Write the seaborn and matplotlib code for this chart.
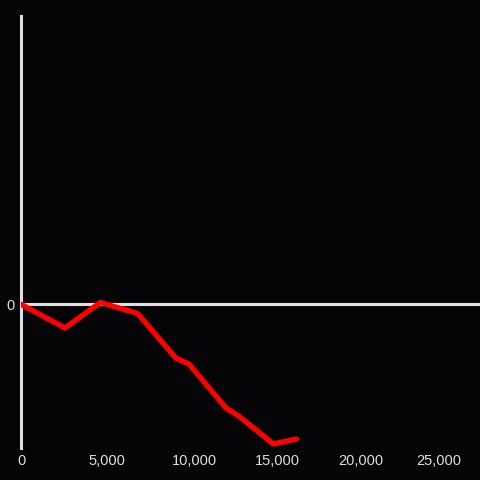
import matplotlib
matplotlib.use("Agg")
import matplotlib.pyplot as plt
import matplotlib.transforms as mtransforms
import seaborn as sns
import pandas as pd

x_vals = [0, 2650, 4750, 6970, 9240, 10030, 12230, 13030, 15050, 16430]
y_vals = [0, -24, 1.5, -9.5, -54, -60, -104, -112.5, -140, -135]
x_ticks = [0, 5000, 10000, 15000, 20000, 25000]
x_tick_labels = ["0", "5,000", "10,000", "15,000", "20,000", "25,000"]

sns.set_style("dark")
plt.rcParams['font.family'] = ['Liberation Sans', 'DejaVu Sans']

bg = "#050407"
axis_col = "#e0e0e0"
fig = plt.figure(figsize=(4.8, 4.8), dpi=100, facecolor=bg)
ax = fig.add_axes([20.5/480, 32/480, 1 - 20.5/480, 432/480])
ax.set_facecolor(bg)

df = pd.DataFrame({"x": x_vals, "y": y_vals})
ax.axhline(0, color=axis_col, lw=2.2, zorder=1)
sns.lineplot(data=df, x="x", y="y", ax=ax, color="#ff0000", lw=3.8, sort=False,
             zorder=3)

ax.set_xlim(0, 27350)
ax.set_ylim(-144, 288)
ax.grid(False)
for s in ["top", "right", "bottom"]:
    ax.spines[s].set_visible(False)
ax.spines["left"].set_color(axis_col)
ax.spines["left"].set_linewidth(2.2)

ax.set_xticks(x_ticks)
ax.set_xticklabels(x_tick_labels)
ax.set_yticks([0])
ax.set_yticklabels(["0"])
ax.tick_params(axis="both", length=0, colors="#dddddd", labelsize=10.5)
ax.tick_params(axis="x", pad=4.6)
ax.tick_params(axis="y", pad=4)
ax.set_xlabel("")
ax.set_ylabel("")

# small per-label horizontal nudges (pixels) to match the reference placement
nudges = [1.5, 2.2, 6, 5.3, 4, -1.3]
for lbl, dx in zip(ax.get_xticklabels(), nudges):
    lbl.set_transform(lbl.get_transform() +
                      mtransforms.ScaledTranslation(dx / 100, 0, fig.dpi_scale_trans))

fig.savefig("out.png", dpi=100, facecolor=bg)
